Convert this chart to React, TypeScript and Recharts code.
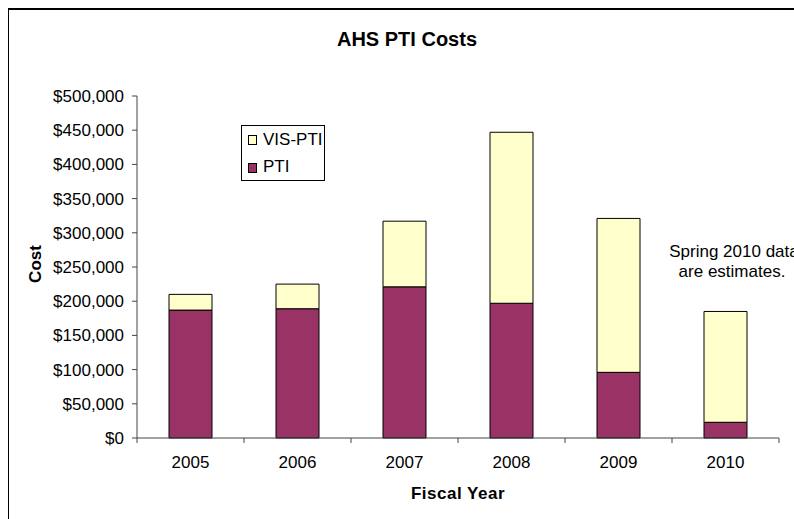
import { BarChart, Bar, XAxis, YAxis } from "recharts";

const YEARS = ["2005", "2006", "2007", "2008", "2009", "2010"];
const PTI = [187000, 189000, 221000, 197000, 96000, 23000];
const VIS_PTI = [23000, 36000, 96000, 250000, 225000, 162000];
const Y_TICKS = [0, 50000, 100000, 150000, 200000, 250000, 300000, 350000, 400000, 450000, 500000];

const PTI_COLOR = "#993366";
const VIS_COLOR = "#FFFFCC";
const AXIS_COLOR = "#444";
const FONT = "'Liberation Sans', Arial, sans-serif";
const LABEL_GAP = 18;

const data = YEARS.map((year, i) => ({ year, pti: PTI[i], vis: VIS_PTI[i] }));

const money = (v: number) => "$" + v.toLocaleString("en-US");

// category label plus tick marks on the category boundaries (Excel style)
function YearTick(props: any) {
  const { x, y, payload, index, visibleTicksCount } = props;
  const half = payload.offset || 0;
  const axisY = y - LABEL_GAP;
  const last = index === visibleTicksCount - 1;
  return (
    <g>
      <line x1={x - half} x2={x - half} y1={axisY} y2={axisY + 5} stroke={AXIS_COLOR} />
      {last && <line x1={x + half} x2={x + half} y1={axisY} y2={axisY + 5} stroke={AXIS_COLOR} />}
      <text x={x} y={y} dy="0.71em" textAnchor="middle" fontSize={17} fontFamily={FONT} fill="#000">
        {payload.value}
      </text>
    </g>
  );
}

export default function App() {
  return (
    <div style={{ position: "fixed", left: 8, top: 8, width: 786, height: 511, overflow: "hidden", fontFamily: FONT, background: "#fff" }}>
      <div style={{ position: "absolute", left: -1, top: 0, width: 900, height: 600, border: "2px solid #000" }} />
      <BarChart width={786} height={511} data={data} margin={{ top: 88, right: 15, left: 0, bottom: 51 }} style={{ position: "absolute", left: 0, top: 0 }}>
        <XAxis
          dataKey="year"
          height={30}
          tickLine={false}
          tickSize={0}
          tickMargin={LABEL_GAP}
          axisLine={{ stroke: AXIS_COLOR }}
          tick={<YearTick />}
          interval={0}
        />
        <YAxis
          width={129}
          domain={[0, 500000]}
          ticks={Y_TICKS}
          tickFormatter={money}
          axisLine={{ stroke: AXIS_COLOR }}
          tickLine={{ stroke: AXIS_COLOR }}
          tickSize={5}
          tickMargin={8}
          tick={{ fill: "#000", fontSize: 17, fontFamily: FONT }}
        />
        <Bar dataKey="pti" stackId="a" fill={PTI_COLOR} stroke="#000" strokeWidth={1} barSize={43} isAnimationActive={false} />
        <Bar dataKey="vis" stackId="a" fill={VIS_COLOR} stroke="#000" strokeWidth={1} barSize={43} isAnimationActive={false} />
      </BarChart>
      <svg width={786} height={511} style={{ position: "absolute", left: 0, top: 0, pointerEvents: "none" }} fontFamily={FONT}>
        <text x={399} y={31} textAnchor="middle" dominantBaseline="central" fontSize={20} fontWeight="bold">AHS PTI Costs</text>
        <text x={0} y={0} transform="translate(27,256) rotate(-90)" textAnchor="middle" dominantBaseline="central" fontSize={17} fontWeight="bold">Cost</text>
        <text x={450} y={485} textAnchor="middle" dominantBaseline="central" fontSize={17} fontWeight="bold" letterSpacing={0.5}>Fiscal Year</text>
        <text x={726} y={243} textAnchor="middle" dominantBaseline="central" fontSize={17}>Spring 2010 data</text>
        <text x={724} y={263} textAnchor="middle" dominantBaseline="central" fontSize={17}>are estimates.</text>
        <rect x={233.5} y={117.5} width={83} height={55} fill="#fff" stroke="#000" strokeWidth={1} />
        <rect x={240.5} y={127.5} width={8} height={9} fill={VIS_COLOR} stroke="#000" strokeWidth={1} />
        <text x={255} y={131} dominantBaseline="central" fontSize={17}>VIS-PTI</text>
        <rect x={240.5} y={155.5} width={8} height={9} fill={PTI_COLOR} stroke="#000" strokeWidth={1} />
        <text x={255} y={158} dominantBaseline="central" fontSize={17}>PTI</text>
      </svg>
    </div>
  );
}
